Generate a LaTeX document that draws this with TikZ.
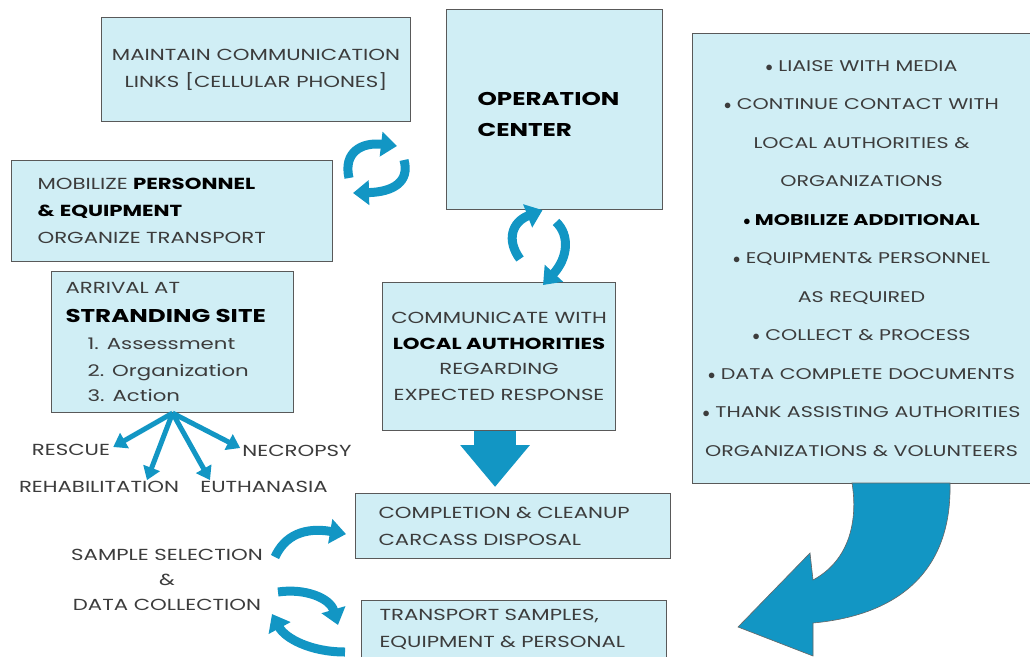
\documentclass[tikz,border=0pt]{standalone}
\usepackage{fontspec}
\setmainfont{Poppins}[FakeStretch=1.33]
\usepackage{tikz}
\usetikzlibrary{arrows.meta,positioning,calc}
\definecolor{boxcyan}{RGB}{208,238,245}
\definecolor{arrowblue}{RGB}{18,150,196}
\definecolor{textgray}{RGB}{60,60,60}
\tikzset{
  stepbox/.style={
    rectangle,
    draw=black!65,
    line width=1.1pt,
    fill=boxcyan,
    inner sep=0pt,
    text=textgray,
    font=\fontsize{16}{27}\selectfont
  },
  plain/.style={
    inner sep=0pt,
    text=textgray,
    font=\fontsize{16}{25}\selectfont
  },
  turn/.style={line width=9pt, draw=arrowblue, -{Triangle[width=24pt,length=16pt]}},
  fan/.style={line width=5pt, draw=arrowblue, -{Triangle[width=17pt,length=13pt]}},
  bigdown/.style={line width=42pt, draw=arrowblue, -{Triangle[width=67pt,length=42pt]}}
}
\newcommand{\bfb}[1]{\textcolor{black}{\bfseries #1}}

\begin{document}
\begin{tikzpicture}[x=1pt,y=-1pt]
\useasboundingbox (0,0) rectangle (1030,656);
\fill[white] (0,0) rectangle (1030,656);

% boxes
\node[stepbox, anchor=north west, minimum width=309pt, minimum height=104pt, align=center] (maint) at (101,17)
  {MAINTAIN COMMUNICATION\\LINKS [CELLULAR PHONES]};
\node[stepbox, anchor=north west, minimum width=321pt, minimum height=101pt, text width=269pt, align=left] (mobil) at (11,160)
  {MOBILIZE \bfb{PERSONNEL}\\\bfb{\& EQUIPMENT}\\ORGANIZE TRANSPORT};
\node[stepbox, anchor=north west, minimum width=216pt, minimum height=200pt, text width=154pt, align=left,
  font=\fontsize{18.5}{31}\selectfont] (opc) at (446,9)
  {\rule{0pt}{22pt}\bfb{OPERATION}\\\bfb{CENTER}};
\node[stepbox, anchor=north west, minimum width=338pt, minimum height=450pt, align=center,
  font=\fontsize{15.5}{38.5}\selectfont] (duty) at (692,33)
  {$\bullet$ LIAISE WITH MEDIA\\
   $\bullet$ CONTINUE CONTACT WITH\\
   LOCAL AUTHORITIES \&\\
   ORGANIZATIONS\\
   \bfb{$\bullet$ MOBILIZE ADDITIONAL}\\
   $\bullet$ EQUIPMENT\& PERSONNEL\\
   AS REQUIRED\\
   $\bullet$ COLLECT \& PROCESS\\
   $\bullet$ DATA COMPLETE DOCUMENTS\\
   $\bullet$ THANK ASSISTING AUTHORITIES\\
   ORGANIZATIONS \& VOLUNTEERS};
\node[stepbox, anchor=north west, minimum width=242pt, minimum height=141pt, text width=214pt, align=left] (arriv) at (51,271)
  {ARRIVAL AT\\[2pt]
   {\fontsize{18.5}{27}\selectfont\bfb{STRANDING SITE}}\\
   \hspace*{22pt}1. Assessment\\
   \hspace*{22pt}2. Organization\\[-2pt]
   \hspace*{22pt}3. Action};
\node[stepbox, anchor=north west, minimum width=233pt, minimum height=148pt, align=center,
  font=\fontsize{16}{25.5}\selectfont] (comm) at (382,282)
  {COMMUNICATE WITH\\\bfb{LOCAL AUTHORITIES}\\REGARDING\\EXPECTED RESPONSE};
\node[stepbox, anchor=north west, minimum width=315pt, minimum height=65pt, text width=269pt, align=left] (compl) at (355,493)
  {COMPLETION \& CLEANUP\\CARCASS DISPOSAL};
\node[stepbox, anchor=north west, minimum width=305pt, minimum height=58pt, text width=269pt, align=left] (trans) at (361,600)
  {TRANSPORT SAMPLES,\\EQUIPMENT \& PERSONAL};

% free labels
\node[plain] (rescue) at (71,450) {RESCUE};
\node[plain] (necro) at (297,451) {NECROPSY};
\node[plain] (rehab) at (99,487) {REHABILITATION};
\node[plain] (euth) at (264,487) {EUTHANASIA};
\node[plain, align=center] (sample) at (167,580) {SAMPLE SELECTION\\\&\\DATA COLLECTION};

% fan from stranding site
\draw[fan] (arriv.south) -- ([xshift=3pt,yshift=3pt]rescue.east);
\draw[fan] (arriv.south) -- ([xshift=48pt,yshift=1pt]rehab.north);
\draw[fan] (arriv.south) -- ([xshift=-54pt,yshift=1pt]euth.north);
\draw[fan] (arriv.south) -- ([xshift=-2pt,yshift=3pt]necro.west);

% turning arrows
\coordinate (ma) at (349,178);
\coordinate (mb) at (397,146);
\coordinate (mc) at (404,160);
\coordinate (md) at (353,193);
\draw[turn] (ma) .. controls (343,152) and (362,142) .. (mb);
\draw[turn] (mc) .. controls (410,182) and (393,192) .. (md);

\coordinate (oa) at (520,259);
\coordinate (ob) at ([xshift=-12pt]opc.south);
\coordinate (oc) at (556,222);
\coordinate (od) at ([xshift=44pt,yshift=-3pt]comm.north);
\draw[turn] (oa) .. controls (506,240) and (512,222) .. (ob);
\draw[turn] (oc) .. controls (570,235) and (568,258) .. (od);

\coordinate (sa) at (275,557);
\coordinate (da) at (278,592);
\coordinate (db) at (345,652);
\draw[turn] (sa) .. controls (285,535) and (305,527) .. ([xshift=-9pt,yshift=-8pt]compl.west);
\draw[turn] (da) .. controls (305,588) and (330,598) .. (338,625);
\draw[turn] (db) .. controls (310,652) and (285,638) .. (272,614);

% big arrows
\draw[bigdown, shorten >=6pt] ([xshift=-4pt]comm.south) -- ([xshift=-4pt]comm.south |- compl.north);
\filldraw[fill=arrowblue, draw=black!60, line width=0.6pt]
  (852,483) -- (950,483) .. controls (952,570) and (900,615) .. (813,623)
  -- (813,656) -- (738,627) -- (810,553) -- (813,580)
  .. controls (850,560) and (858,520) .. (852,483) -- cycle;
\end{tikzpicture}
\end{document}
